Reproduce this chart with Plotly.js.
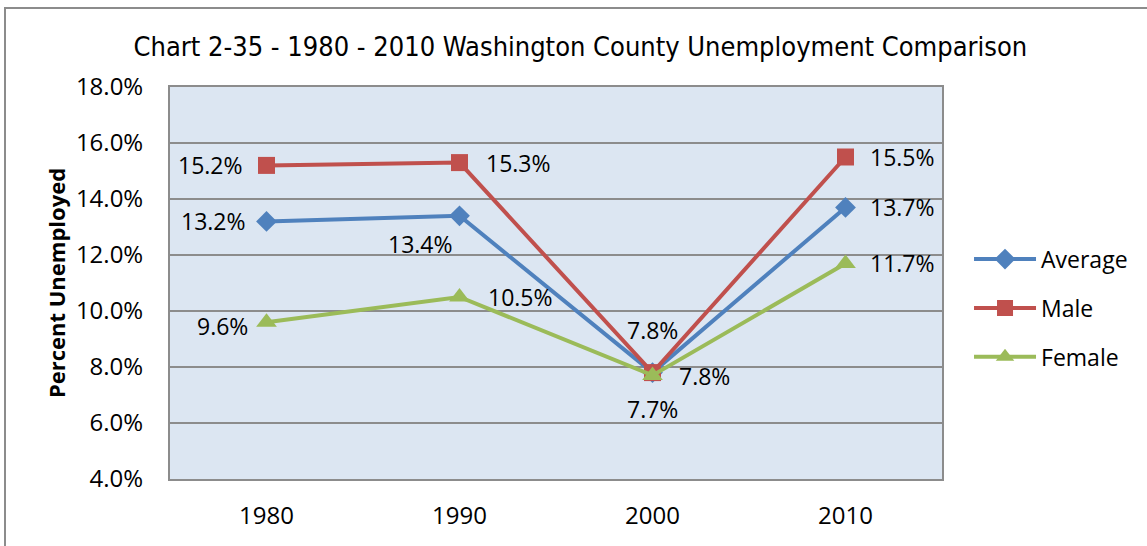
<!DOCTYPE html>
<html>
<head>
<meta charset="utf-8">
<script src="https://cdn.plot.ly/plotly-3.0.1.min.js"></script>
<style>
html,body{margin:0;padding:0;background:#fff;overflow:hidden;}
#frame{position:absolute;left:4px;top:7px;width:1200px;height:600px;border-left:2px solid #8c8c8c;border-top:2px solid #8c8c8c;box-sizing:border-box;pointer-events:none;z-index:5;}
#chart{position:absolute;left:0;top:0;width:1147px;height:546px;}
</style>
</head>
<body>
<div id="chart"></div>
<div id="frame"></div>
<script>
// ---- data ----
const years = ["1980", "1990", "2000", "2010"];
const average = [13.2, 13.4, 7.8, 13.7];
const male = [15.2, 15.3, 7.8, 15.5];
const female = [9.6, 10.5, 7.7, 11.7];
const yTicks = [4, 6, 8, 10, 12, 14, 16, 18];

// ---- label placement (offsets in px) ----
const labelPos = {
  Average: [[-53, 0], [-39, -28], [0, 43], [57, 0]],
  Male: [[-56, 0], [59, 0], [52, -3], [57, 0]],
  Female: [[-44, -4], [61, 0], [0, -34], [57, 0]]
};

const colors = {Average: "#4F81BD", Male: "#C0504D", Female: "#9BBB59"};
const symbols = {Average: "diamond", Male: "square", Female: "triangle-up"};
const sizes = {Average: 16, Male: 17, Female: 18};
const series = {Average: average, Male: male, Female: female};
const FONT = "Open Sans, sans-serif";

const traces = [];
const annotations = [];
Object.keys(series).forEach((name, gi) => {
  traces.push({
    type: "scatter", mode: "lines+markers", name: name,
    x: years, y: series[name],
    legendgroup: "g" + gi,
    line: {color: colors[name], width: 4},
    marker: {symbol: symbols[name], size: sizes[name], color: colors[name]},
    cliponaxis: false
  });
  series[name].forEach((v, i) => {
    annotations.push({
      x: i, y: v, xref: "x", yref: "y",   // category index of years[i]
      text: v.toFixed(1) + "%", showarrow: false,
      xshift: labelPos[name][i][0], yshift: labelPos[name][i][1],
      font: {family: FONT, size: 23, color: "#000"}
    });
  });
});

const layout = {
  width: 1147, height: 546,
  margin: {l: 170, r: 205, t: 87, b: 67, pad: 0},
  paper_bgcolor: "#ffffff",
  plot_bgcolor: "#DCE6F2",
  showlegend: true,
  title: {
    text: "Chart 2-35 - 1980 - 2010 Washington County Unemployment Comparison",
    x: 0.506, xanchor: "center", xref: "container",
    y: 0.915, yanchor: "middle", yref: "container",
    font: {family: "DejaVu Sans Condensed, sans-serif", size: 27, color: "#000"}
  },
  xaxis: {
    type: "category", range: [-0.5, 3.5],
    showgrid: false, zeroline: false,
    showline: true, linecolor: "#8c8c8c", linewidth: 2, mirror: true,
    ticks: "", ticklabelstandoff: 14,
    tickfont: {family: FONT, size: 24, color: "#000"}
  },
  yaxis: {
    range: [4, 18], tickvals: yTicks,
    ticktext: yTicks.map(v => v.toFixed(1) + "%"),
    showgrid: true, gridcolor: "#8c8c8c", gridwidth: 2,
    zeroline: false,
    showline: true, linecolor: "#8c8c8c", linewidth: 2, mirror: true,
    ticks: "", ticklabelstandoff: 20,
    tickfont: {family: FONT, size: 24, color: "#000"},
    title: {text: "<b>Percent Unemployed</b>", standoff: 4,
      font: {family: FONT, size: 22, color: "#000"}}
  },
  legend: {
    x: 1.035, xanchor: "left", y: 0.436, yanchor: "middle",
    traceorder: "grouped", tracegroupgap: 16,
    bgcolor: "rgba(0,0,0,0)",
    font: {family: FONT, size: 23, color: "#000"},
    itemwidth: 62
  },
  annotations: annotations
};

Plotly.newPlot("chart", traces, layout, {displayModeBar: false, staticPlot: true});
</script>
</body>
</html>
